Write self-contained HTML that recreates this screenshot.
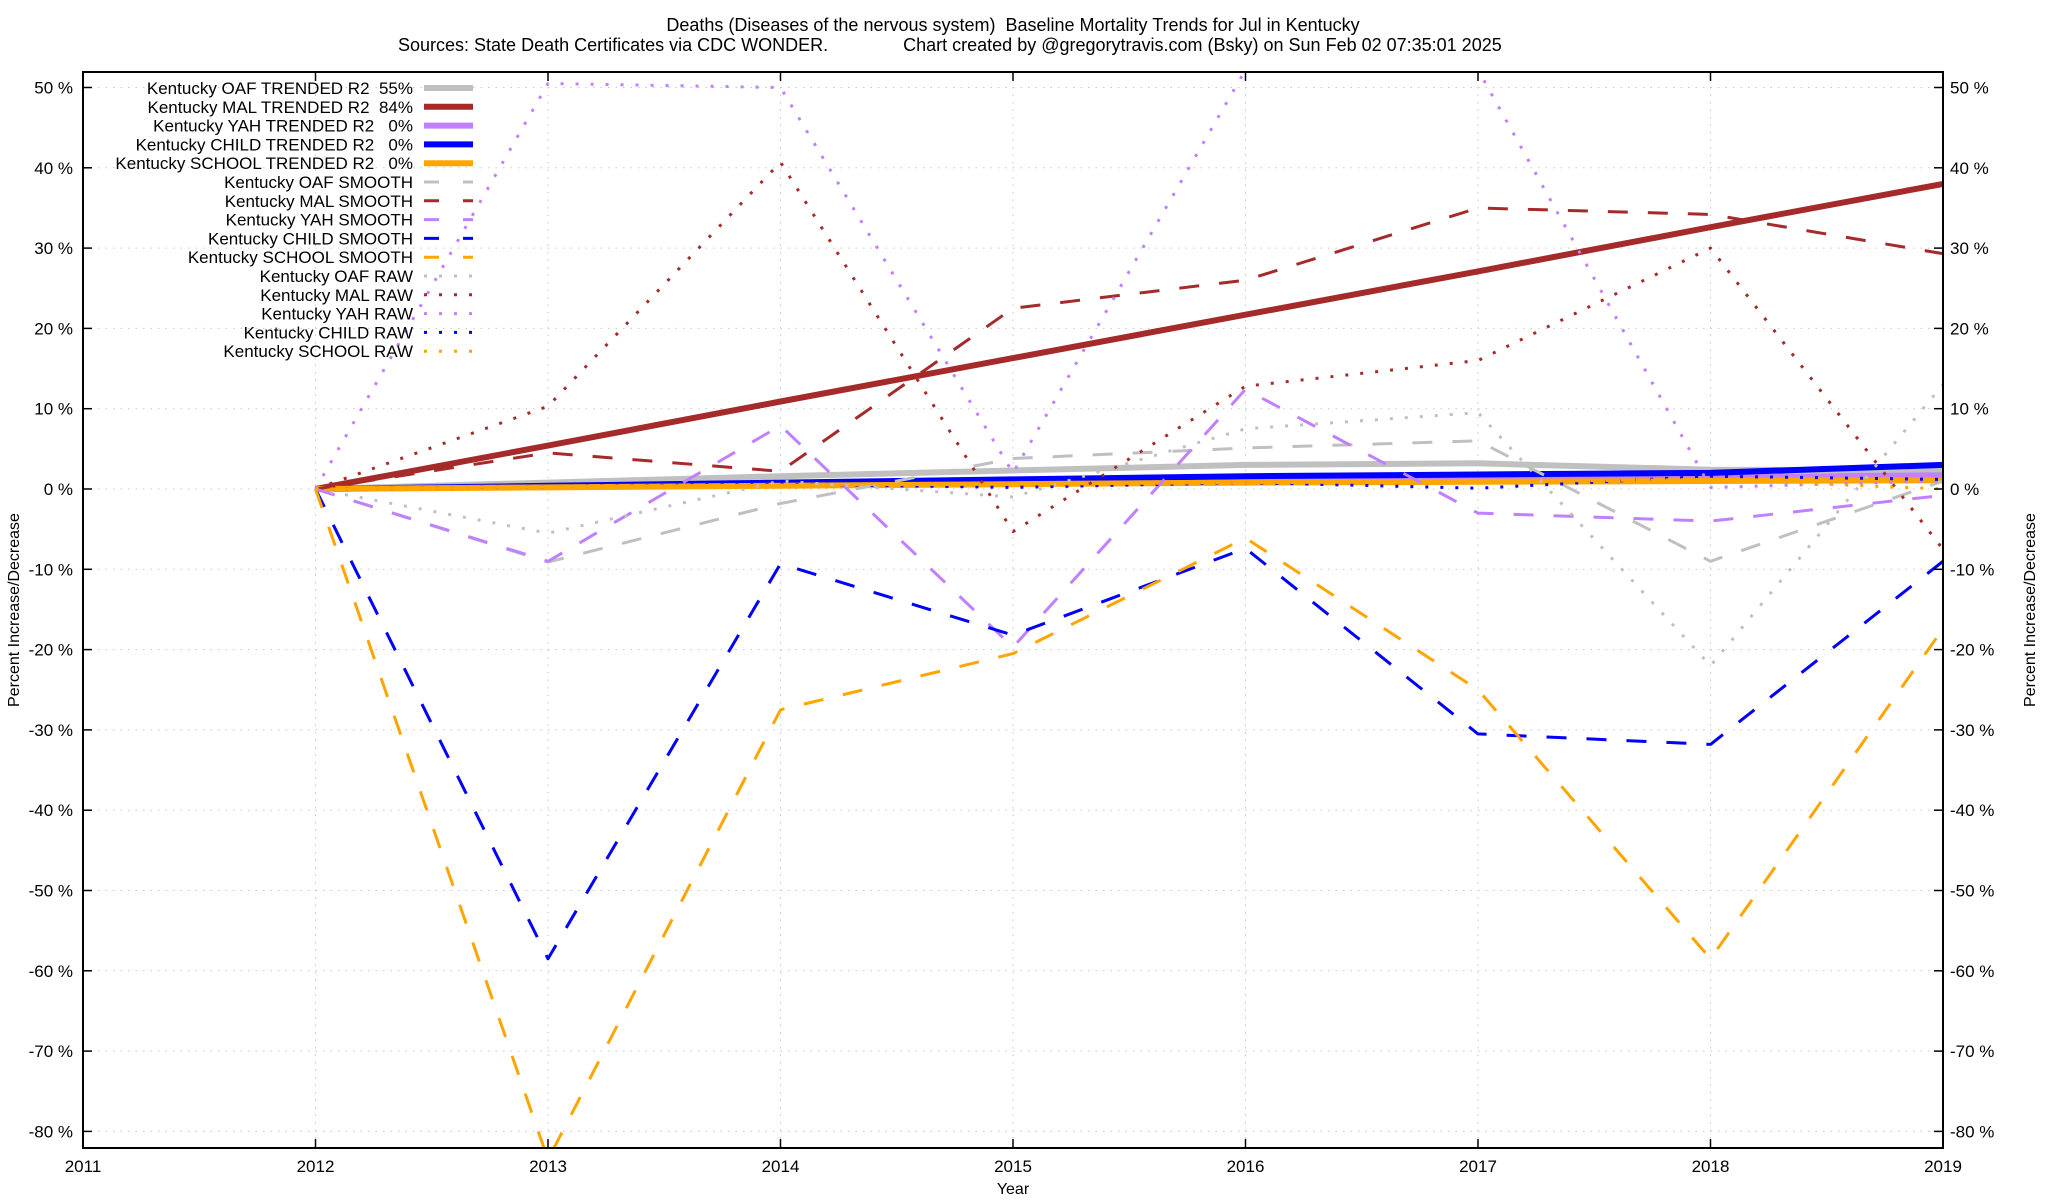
<!DOCTYPE html>
<html><head><meta charset="utf-8"><style>
html,body{margin:0;padding:0;background:#fff;}
svg{display:block;font-family:"Liberation Sans",Arial,sans-serif;}
text{white-space:pre;}
</style></head><body>
<svg id="chart" width="2048" height="1200" viewBox="0 0 2048 1200" xmlns="http://www.w3.org/2000/svg">
<rect width="2048" height="1200" fill="#fff"/>
<text x="1013" y="31" font-size="18" text-anchor="middle">Deaths (Diseases of the nervous system)  Baseline Mortality Trends for Jul in Kentucky</text>
<text x="398" y="51" font-size="18">Sources: State Death Certificates via CDC WONDER.               Chart created by @gregorytravis.com (Bsky) on Sun Feb 02 07:35:01 2025</text>
<g id="grid"></g>
<g id="series"></g>
<rect x="83" y="72" width="1860" height="1076" fill="none" stroke="#000" stroke-width="2"/>
<g id="axes"></g>
<text x="1013" y="1194" font-size="16" text-anchor="middle">Year</text>
<text transform="translate(19,610) rotate(-90)" font-size="16" text-anchor="middle">Percent Increase/Decrease</text>
<text transform="translate(2035,610) rotate(-90)" font-size="16" text-anchor="middle">Percent Increase/Decrease</text>
<g id="legend"></g>
</svg>
<script>
const years = [2012,2013,2014,2015,2016,2017,2018,2019];
const xTicks = [2011,2012,2013,2014,2015,2016,2017,2018,2019];
const yTicks = [50,40,30,20,10,0,-10,-20,-30,-40,-50,-60,-70,-80];
const oafTrend = [0,0.8,1.6,2.3,3.0,3.2,2.4,2.3];
const malTrend = [0,5.4,10.9,16.3,21.7,27.1,32.6,38];
const yahTrend = [0,0.3,0.6,0.9,1.2,1.4,1.5,1.7];
const childTrend = [0,0.4,0.8,1.2,1.6,1.8,2.0,3.0];
const schoolTrend = [0,0.2,0.4,0.6,0.8,0.9,1.0,1.1];
const oafSmooth = [0,-9.1,-1.8,3.8,5.1,6,-9,1];
const malSmooth = [0,4.5,2.2,22.5,26,35,34.2,29.3];
const yahSmooth = [0,-9,7.9,-19.7,12.4,-3,-4,-0.8];
const childSmooth = [0,-58.5,-9.3,-18.2,-7.4,-30.5,-31.8,-9];
const schoolSmooth = [0,-83.5,-27.5,-20.5,-6.1,-25,-58.5,-17.4];
const oafRaw = [0,-5.5,1,-1,7.5,9.5,-22,13];
const malRaw = [0,10.3,40.7,-5.3,12.8,16,30,-7.5];
const yahRaw = [0,50.5,50,2,52.2,52.2,0.2,1];
const childRaw = [0,0.3,0.6,0.2,0.8,0.1,1.6,1.2];
const schoolRaw = [0,0.3,0.5,0.6,0.8,0.9,1.2,0];

const NS="http://www.w3.org/2000/svg";
const X0=83,X1=1943,Y0=72,Y1=1148;
function xs(v){return X0+(v-2011)/(2019-2011)*(X1-X0);}
function ys(v){return 489-8.03*v;}
function mk(tag,attrs,parent){const e=document.createElementNS(NS,tag);for(const k in attrs)e.setAttribute(k,attrs[k]);parent.appendChild(e);return e;}

const grid=document.getElementById('grid'),axes=document.getElementById('axes');
yTicks.forEach(t=>{
  const y=ys(t);
  const g=mk('line',{x1:X0,x2:X1,y1:y,y2:y,stroke:'#c8c8c8','stroke-width':1,'stroke-dasharray':'1.5,6'},grid);
  
  
  mk('line',{x1:X0,x2:X0+9,y1:y,y2:y,stroke:'#000','stroke-width':1.5},axes);
  mk('line',{x1:X1-9,x2:X1,y1:y,y2:y,stroke:'#000','stroke-width':1.5},axes);
  const l=mk('text',{x:73,y:y+6,'font-size':17,'text-anchor':'end'},axes);
  l.textContent=t+' %';
  
  
  const r=mk('text',{x:1950,y:y+6,'font-size':17,'text-anchor':'start'},axes);
  r.textContent=t+' %';
  
  
});
xTicks.forEach(t=>{
  const x=xs(t);
  const g=mk('line',{x1:x,x2:x,y1:Y0,y2:Y1,stroke:'#c8c8c8','stroke-width':1,'stroke-dasharray':'1.5,6'},grid);
  
  
  mk('line',{x1:x,x2:x,y1:Y1-9,y2:Y1,stroke:'#000','stroke-width':1.5},axes);
  mk('line',{x1:x,x2:x,y1:Y0,y2:Y0+9,stroke:'#000','stroke-width':1.5},axes);
  const l=mk('text',{x:x,y:1172,'font-size':17,'text-anchor':'middle'},axes);
  l.textContent=t;
  
  
});

const defs=mk('defs',{},document.getElementById('chart'));
const cp=mk('clipPath',{id:'clip'},defs);
mk('rect',{x:X0,y:Y0,width:X1-X0,height:Y1-Y0},cp);

const series=[
 {name:'Kentucky OAF TRENDED R2  55%',d:oafTrend,c:'#c0c0c0',s:'trend',id:'oaf-trend'},
 {name:'Kentucky MAL TRENDED R2  84%',d:malTrend,c:'#a52a2a',s:'trend',id:'mal-trend'},
 {name:'Kentucky YAH TRENDED R2   0%',d:yahTrend,c:'#c080ff',s:'trend',id:'yah-trend'},
 {name:'Kentucky CHILD TRENDED R2   0%',d:childTrend,c:'#0000ff',s:'trend',id:'child-trend'},
 {name:'Kentucky SCHOOL TRENDED R2   0%',d:schoolTrend,c:'#ffa500',s:'trend',id:'school-trend'},
 {name:'Kentucky OAF SMOOTH',d:oafSmooth,c:'#c0c0c0',s:'smooth',id:'oaf-smooth'},
 {name:'Kentucky MAL SMOOTH',d:malSmooth,c:'#a52a2a',s:'smooth',id:'mal-smooth'},
 {name:'Kentucky YAH SMOOTH',d:yahSmooth,c:'#c080ff',s:'smooth',id:'yah-smooth'},
 {name:'Kentucky CHILD SMOOTH',d:childSmooth,c:'#0000ff',s:'smooth',id:'child-smooth'},
 {name:'Kentucky SCHOOL SMOOTH',d:schoolSmooth,c:'#ffa500',s:'smooth',id:'school-smooth'},
 {name:'Kentucky OAF RAW',d:oafRaw,c:'#c0c0c0',s:'raw',id:'oaf-raw'},
 {name:'Kentucky MAL RAW',d:malRaw,c:'#a52a2a',s:'raw',id:'mal-raw'},
 {name:'Kentucky YAH RAW',d:yahRaw,c:'#c080ff',s:'raw',id:'yah-raw'},
 {name:'Kentucky CHILD RAW',d:childRaw,c:'#0000ff',s:'raw',id:'child-raw'},
 {name:'Kentucky SCHOOL RAW',d:schoolRaw,c:'#ffa500',s:'raw',id:'school-raw'}
];
function style(s){
  if(s==='trend')return {'stroke-width':6};
  if(s==='smooth')return {'stroke-width':3,'stroke-dasharray':'20,20'};
  return {'stroke-width':3,'stroke-dasharray':'3,12'};
}
const sg=document.getElementById('series'),lg=document.getElementById('legend');
sg.setAttribute('clip-path','url(#clip)');
series.forEach((s,i)=>{
  const pts=s.d.map((v,j)=>xs(years[j]).toFixed(1)+','+ys(v).toFixed(1)).join(' ');
  const a=Object.assign({points:pts,fill:'none',stroke:s.c,'stroke-linejoin':'round'},style(s.s));
  const p=mk('polyline',a,sg);
  
  
  const y=88+i*18.8;
  const t=mk('text',{x:413,y:y+6,'font-size':17,'text-anchor':'end'},lg);
  t.textContent=s.name;
  
  
  const la=Object.assign({x1:424,x2:473,y1:y,y2:y,stroke:s.c},style(s.s));
  if(s.s==='smooth')la['stroke-dasharray']='15,24';
  const ln=mk('line',la,lg);
  
  
});
</script>
</body></html>
